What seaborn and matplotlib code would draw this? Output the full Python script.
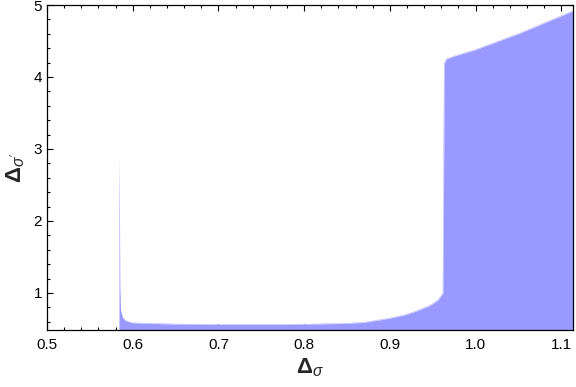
import numpy as np
import pandas as pd
import seaborn as sns
import matplotlib
matplotlib.use("Agg")
import matplotlib.pyplot as plt
from matplotlib.ticker import MultipleLocator

# Upper boundary of the allowed region (Delta_sigma -> Delta_sigma')
delta_sigma = [0.5840, 0.5844, 0.5850, 0.5858, 0.588, 0.591, 0.595, 0.600, 0.650,
               0.700, 0.750, 0.800, 0.850, 0.870, 0.900, 0.917, 0.930, 0.947,
               0.956, 0.962, 0.9635, 0.966, 0.975, 1.000, 1.052, 1.080, 1.114]
delta_sigma_prime = [2.87, 2.40, 1.10, 0.76, 0.66, 0.62, 0.60, 0.585, 0.568,
                     0.563, 0.563, 0.566, 0.578, 0.592, 0.650, 0.695, 0.745, 0.830,
                     0.900, 1.000, 4.19, 4.25, 4.29, 4.38, 4.61, 4.75, 4.92]
region_floor = 0.0

xticks = [0.5, 0.6, 0.7, 0.8, 0.9, 1.0, 1.1]
yticks = [1, 2, 3, 4, 5]

df = pd.DataFrame({"x": delta_sigma, "y": delta_sigma_prime})

sns.set_style("ticks")
plt.rcParams["font.family"] = ["Liberation Sans", "DejaVu Sans"]
plt.rcParams["mathtext.fontset"] = "custom"
plt.rcParams["mathtext.rm"] = "Liberation Sans"
plt.rcParams["mathtext.it"] = "Liberation Sans:italic"
plt.rcParams["mathtext.bf"] = "Liberation Sans:bold"

fig = plt.figure(figsize=(5.76, 3.87), dpi=100)
ax = fig.add_axes([47 / 576, 57 / 387, (573 - 47) / 576, (330 - 5) / 387])

fill_color = "#9999ff"
ax.fill_between(df["x"], region_floor, df["y"], color=fill_color, lw=0)
sns.lineplot(data=df.iloc[3:], x="x", y="y", ax=ax, color=fill_color, lw=0.3,
             sort=False, estimator=None)

ax.set_xlim(0.5, 1.1137)
ax.set_ylim(0.486, 5.0)
ax.set_xticks(xticks)
ax.set_xticklabels([f"{t:.1f}" for t in xticks])
ax.set_yticks(yticks)
ax.set_yticklabels([str(t) for t in yticks])
ax.xaxis.set_minor_locator(MultipleLocator(0.02))
ax.yaxis.set_minor_locator(MultipleLocator(0.2))
ax.tick_params(which="both", direction="in", top=True, right=True,
               width=0.8, color="black", labelsize=11, labelcolor="black")
ax.tick_params(which="major", length=4.5)
ax.tick_params(which="minor", length=2.5)
ax.tick_params(axis="x", pad=6)
for s in ax.spines.values():
    s.set_linewidth(0.9)
    s.set_color("black")

ax.set_xlabel(r"$\mathbf{\Delta}_{\sigma}$", fontsize=16, labelpad=3)
ax.set_ylabel(r"$\mathbf{\Delta}_{\sigma'}$", fontsize=16, labelpad=5)

fig.savefig("out.png", dpi=100)
